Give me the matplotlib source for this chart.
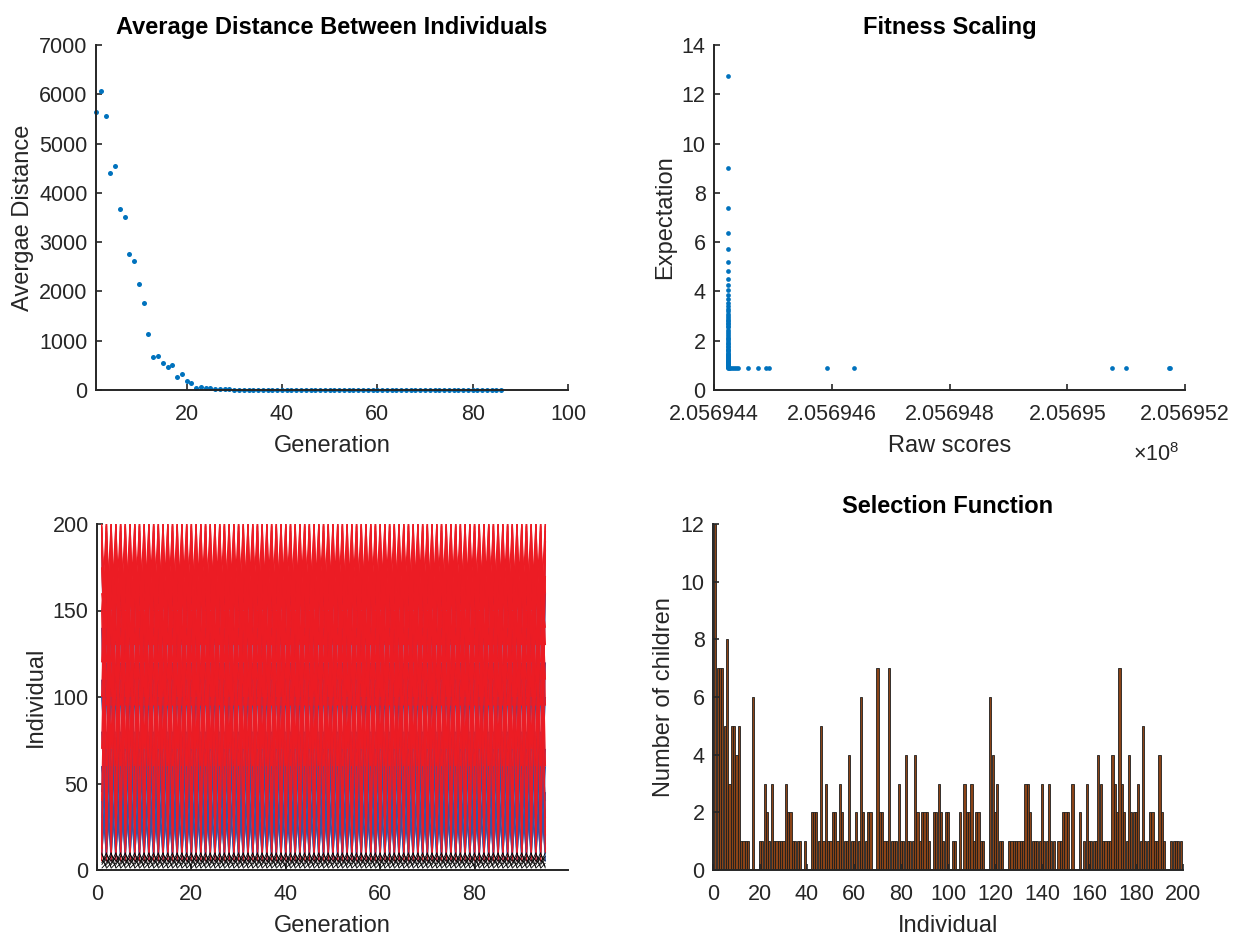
import numpy as np
import matplotlib
matplotlib.use("Agg")
import matplotlib.pyplot as plt
from matplotlib.collections import LineCollection

plt.rcParams['font.family'] = ['Liberation Sans', 'DejaVu Sans']
plt.rcParams['mathtext.fontset'] = 'custom'
plt.rcParams['mathtext.rm'] = 'Liberation Sans'

# average distance between individuals, generations 1..86
avg_dist = [5650, 6060, 5560, 4410, 4540, 3680, 3510, 2750, 2620, 2160,
            1760, 1140, 660, 700, 540, 460, 510, 270, 320, 180,
            135, 50, 70, 50, 45, 20, 18, 15, 14, 10,
            10, 9, 8, 8, 7, 6, 6, 5, 5, 5,
            4, 4, 4, 3, 3, 3, 3, 3, 2, 2,
            2, 2, 2, 2, 2, 2, 1, 1, 1, 1,
            1, 1, 1, 1, 1, 1, 1, 1, 1, 1,
            1, 1, 1, 1, 1, 1, 1, 1, 1, 1,
            1, 1, 1, 1, 1, 1]

# fitness scaling: expectation of the individuals sitting at the best raw score
col_score = 2.05694424
col_expect = [12.76, 9.02, 7.37, 6.38, 5.71, 5.21, 4.82, 4.51, 4.25, 4.04,
              3.85, 3.68, 3.54, 3.41, 3.29, 3.19, 3.09, 3.01, 2.93, 2.85,
              2.78, 2.72, 2.66, 2.60, 2.55, 2.45, 2.36, 2.28, 2.20, 2.12,
              2.05, 1.98, 1.91, 1.85, 1.79, 1.73, 1.67, 1.62, 1.57, 1.52,
              1.47, 1.43, 1.38, 1.34, 1.30, 1.26, 1.22, 1.18, 1.15, 1.12,
              1.09, 1.06, 1.03, 1.00, 0.98, 0.96, 0.94, 0.93, 0.92, 0.91]
# the worst individuals, spread out along the raw score axis
tail_score = [2.05694426, 2.05694428, 2.05694431, 2.05694434, 2.05694438,
              2.05694441, 2.05694458, 2.05694475, 2.05694488, 2.05694493,
              2.05694592, 2.05694637, 2.05695076, 2.05695099, 2.05695172,
              2.05695174]
tail_expect = [0.91, 0.91, 0.91, 0.91, 0.91, 0.91, 0.91, 0.91, 0.91, 0.91,
               0.90, 0.90, 0.90, 0.90, 0.90, 0.90]

# selection function: number of children per individual 1..200
sel_counts = [12, 7, 7, 7, 5, 8, 3, 5, 5, 4, 5, 1, 1, 1, 1, 0, 6, 0, 0, 1,
              1, 3, 2, 1, 3, 1, 1, 1, 1, 1, 3, 2, 2, 1, 1, 1, 1, 0, 1, 0,
              0, 2, 2, 2, 1, 5, 1, 3, 1, 1, 2, 2, 1, 3, 2, 1, 1, 4, 1, 1,
              2, 1, 6, 2, 1, 2, 2, 0, 0, 7, 2, 2, 1, 1, 7, 1, 1, 1, 3, 1,
              1, 4, 1, 1, 1, 4, 2, 1, 2, 2, 2, 1, 0, 2, 2, 3, 2, 1, 2, 2,
              0, 1, 1, 0, 2, 0, 3, 2, 2, 3, 1, 2, 2, 1, 1, 0, 0, 6, 4, 2,
              3, 1, 1, 0, 0, 1, 1, 1, 1, 1, 1, 1, 3, 3, 2, 1, 1, 1, 1, 3,
              1, 1, 3, 1, 1, 0, 1, 1, 2, 2, 2, 0, 3, 0, 0, 2, 0, 1, 3, 1,
              1, 1, 1, 4, 3, 1, 1, 1, 1, 4, 3, 2, 7, 3, 2, 1, 4, 2, 2, 2,
              3, 1, 5, 1, 1, 2, 2, 1, 1, 4, 2, 1, 0, 0, 1, 1, 1, 1, 1, 0]

# genealogy: parent -> child links drawn in every generation step
gen_first, gen_last = 1, 95
xover_par = [200, 198, 190, 185, 175, 150, 100, 120, 70, 160, 5,
             199, 12, 150, 40]
xover_chd = [95, 130, 60, 160, 110, 199, 200, 190, 196, 140, 200,
             10, 185, 20, 170]
mut_par = [195, 14, 110, 20, 80, 30, 60, 18, 140, 45, 100, 25, 8, 60, 40, 10]
mut_chd = [12, 190, 15, 120, 25, 70, 40, 160, 30, 100, 60, 35, 60, 5, 10, 45]
elite_par = [1, 3, 6, 9, 4, 10]
elite_chd = [4, 8, 2, 5, 10, 1]

C_DOT = '#0072BD'
C_AX = '#262626'
TICK_FS = 15.5
LAB_FS = 17

W, H = 1236, 936
fig = plt.figure(figsize=(W / 100, H / 100), dpi=100)


def add_ax(x0, y0, x1, y1):
    return fig.add_axes([x0 / W, 1 - y1 / H, (x1 - x0) / W, (y1 - y0) / H])


def style(ax):
    for s in ['top', 'right']:
        ax.spines[s].set_visible(False)
    for s in ['left', 'bottom']:
        ax.spines[s].set_linewidth(1.4)
        ax.spines[s].set_color(C_AX)
    ax.tick_params(direction='in', length=4, width=1.2, color=C_AX,
                   labelsize=TICK_FS, labelcolor=C_AX)
    ax.tick_params(axis='x', pad=10)
    ax.tick_params(axis='y', pad=6)
    ax.xaxis.labelpad = 7


def links(par, chd):
    segs = []
    for g in range(gen_first, gen_last):
        for p, c in zip(par, chd):
            segs.append([(g, p), (g + 1, c)])
    return segs


# --- Average distance ---
ax1 = add_ax(96, 45, 568, 390)
gens = np.arange(1, len(avg_dist) + 1)
ax1.plot(gens, avg_dist, 'o', color=C_DOT, ms=3.6, mew=0, clip_on=False)
ax1.set_xlim(1, 100)
ax1.set_ylim(0, 7000)
ax1.set_xticks([20, 40, 60, 80, 100])
ax1.set_yticks(range(0, 7001, 1000))
ax1.set_xlabel('Generation', fontsize=LAB_FS, color=C_AX)
ax1.set_ylabel('Avergae Distance', fontsize=LAB_FS, color=C_AX)
ax1.set_title('Average Distance Between Individuals', fontsize=LAB_FS,
              fontweight='bold', pad=8)
style(ax1)

# --- Fitness scaling ---
ax2 = add_ax(714, 45, 1185, 390)
ax2.plot([col_score] * len(col_expect), col_expect, 'o', color=C_DOT,
         ms=3.4, mew=0)
ax2.plot(tail_score, tail_expect, 'o', color=C_DOT, ms=3.4, mew=0)
ax2.set_xlim(2.056944, 2.056952)
ax2.set_ylim(0, 14)
xt = [2.056944, 2.056946, 2.056948, 2.056950, 2.056952]
ax2.set_xticks(xt)
ax2.set_xticklabels(['2.056944', '2.056946', '2.056948', '2.05695', '2.056952'])
ax2.set_yticks(range(0, 15, 2))
ax2.set_xlabel('Raw scores', fontsize=LAB_FS, color=C_AX)
ax2.set_ylabel('Expectation', fontsize=LAB_FS, color=C_AX)
ax2.set_title('Fitness Scaling', fontsize=LAB_FS, fontweight='bold', pad=8)
style(ax2)
fig.text(1133 / W, 1 - 461 / H, r'$\times$10$^{8}$', fontsize=TICK_FS,
         color=C_AX, ha='left', va='baseline')

# --- Genealogy ---
ax3 = add_ax(97, 524, 568, 870)
ax3.add_collection(LineCollection(links(mut_par, mut_chd), colors='#3A53A4',
                                  linewidths=1.0))
ax3.add_collection(LineCollection(links(xover_par, xover_chd),
                                  colors='#EC1C24', linewidths=1.0))
ax3.add_collection(LineCollection(links(elite_par, elite_chd), colors='black',
                                  linewidths=0.6))
ax3.set_xlim(0, 99.8)
ax3.set_ylim(0, 200)
ax3.set_xticks([0, 20, 40, 60, 80])
ax3.set_yticks(range(0, 201, 50))
ax3.set_xlabel('Generation', fontsize=LAB_FS, color=C_AX)
ax3.set_ylabel('Individual', fontsize=LAB_FS, color=C_AX)
style(ax3)

# --- Selection function ---
ax4 = add_ax(713, 524, 1183, 870)
ax4.bar(np.arange(1, len(sel_counts) + 1), sel_counts, width=0.9,
        color='#8A4317', edgecolor='#1e1e1e', linewidth=0.6)
ax4.set_xlim(0, 200)
ax4.set_ylim(0, 12)
ax4.set_xticks(range(0, 201, 20))
ax4.set_yticks(range(0, 13, 2))
ax4.set_xlabel('Individual', fontsize=LAB_FS, color=C_AX)
ax4.set_ylabel('Number of children', fontsize=LAB_FS, color=C_AX)
ax4.set_title('Selection Function', fontsize=LAB_FS, fontweight='bold', pad=8)
style(ax4)

fig.savefig('out.png', dpi=100)
